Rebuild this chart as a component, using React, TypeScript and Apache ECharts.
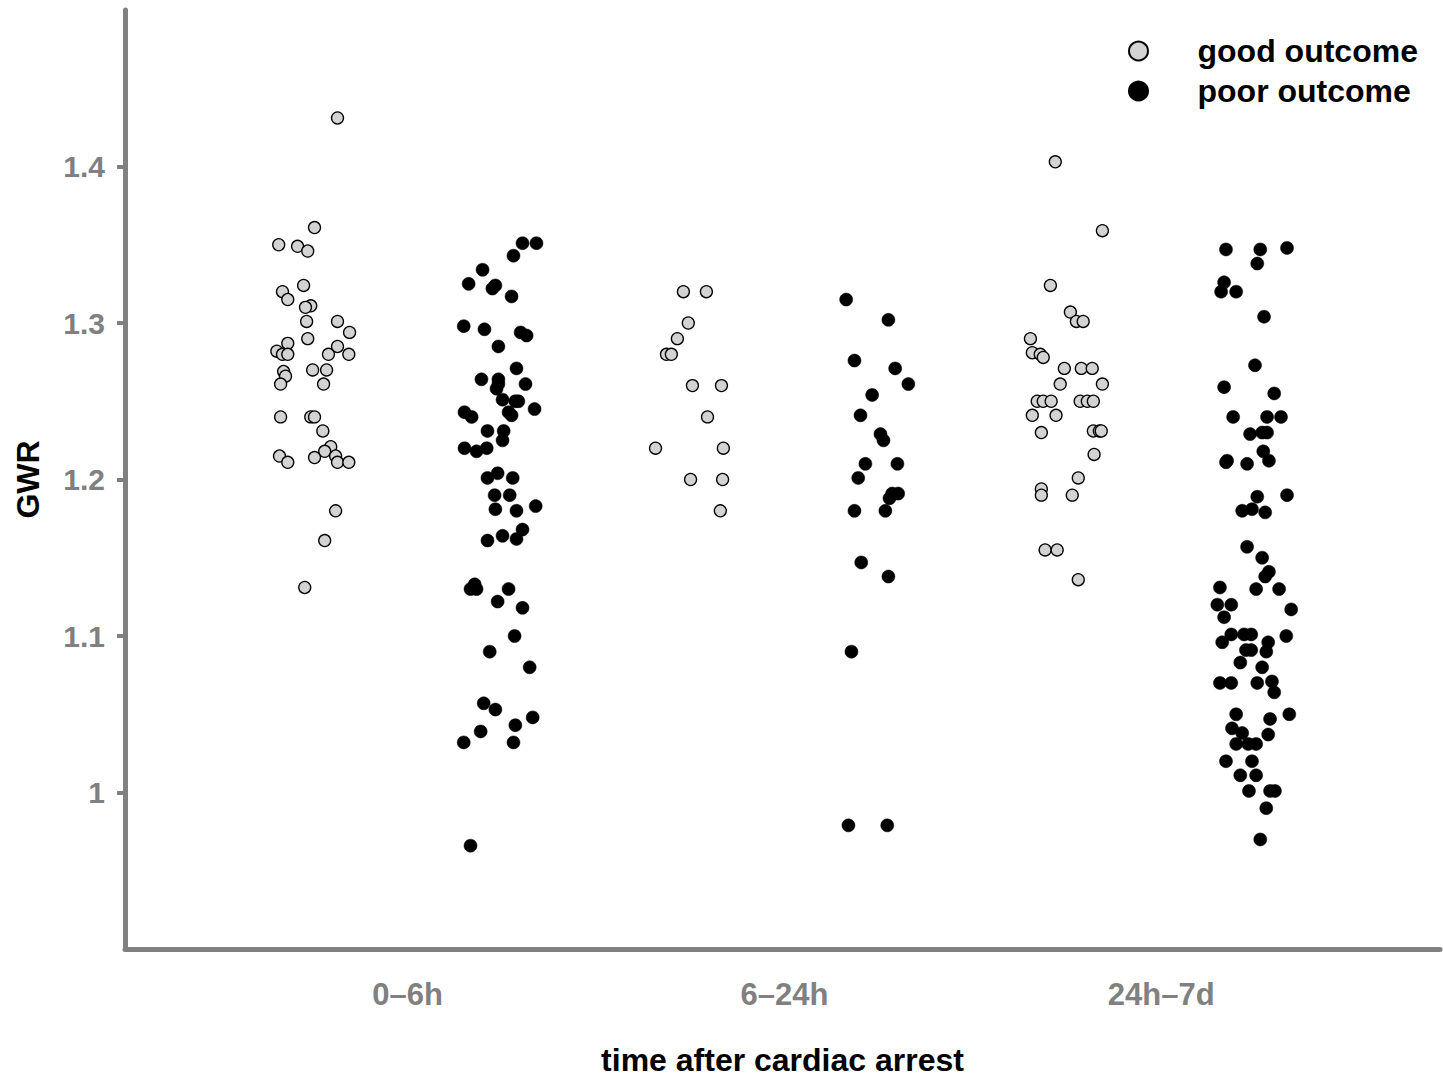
import React, { useEffect, useRef } from "react";
import * as echarts from "echarts";

// Category labels (positions 1, 2, 3 on the x axis)
const categories = ["0–6h", "6–24h", "24h–7d"];
const yTickValues = [1, 1.1, 1.2, 1.3, 1.4];

// ---- good outcome, 0–6h (jittered x positions, GWR values)
const goodX06 = [0.814,0.753,0.658,0.708,0.735,0.724,0.668,0.682,0.743,0.729,0.732,0.814,0.846,0.735,0.682,0.653,0.668,0.682,0.790,0.814,0.844,0.671,0.676,0.663,0.748,0.785,0.777,0.663,0.743,0.753,0.775,0.796,0.780,0.753,0.660,0.682,0.809,0.814,0.844,0.809,0.780,0.727];
const goodY06 = [1.431,1.361,1.350,1.349,1.346,1.324,1.320,1.315,1.311,1.310,1.301,1.301,1.294,1.290,1.287,1.282,1.280,1.280,1.280,1.285,1.280,1.269,1.266,1.261,1.270,1.270,1.261,1.240,1.240,1.240,1.231,1.221,1.218,1.214,1.215,1.211,1.215,1.211,1.211,1.180,1.161,1.131];

// ---- poor outcome, 0–6h
const poorX06 = [1.305,1.342,1.281,1.199,1.162,1.233,1.225,1.276,1.149,1.204,1.300,1.316,1.241,1.289,1.196,1.241,1.241,1.236,1.313,1.252,1.286,1.294,1.151,1.170,1.268,1.276,1.337,1.212,1.255,1.252,1.151,1.183,1.210,1.212,1.239,1.279,1.231,1.271,1.233,1.289,1.340,1.212,1.252,1.289,1.305,1.178,1.167,1.183,1.268,1.239,1.305,1.284,1.218,1.324,1.202,1.233,1.332,1.286,1.194,1.149,1.281,1.167];
const poorY06 = [1.351,1.351,1.343,1.334,1.325,1.324,1.322,1.317,1.298,1.296,1.294,1.292,1.285,1.271,1.264,1.264,1.261,1.258,1.261,1.251,1.250,1.250,1.243,1.240,1.243,1.241,1.245,1.231,1.231,1.225,1.220,1.218,1.220,1.201,1.204,1.201,1.190,1.190,1.181,1.180,1.183,1.161,1.164,1.162,1.168,1.133,1.130,1.130,1.130,1.122,1.118,1.100,1.090,1.080,1.057,1.053,1.048,1.043,1.039,1.032,1.032,0.966];

// ---- good outcome, 6–24h
const goodX624 = [1.732,1.793,1.745,1.716,1.687,1.700,1.756,1.833,1.796,1.658,1.838,1.751,1.836,1.830];
const goodY624 = [1.32,1.32,1.30,1.29,1.28,1.28,1.26,1.26,1.24,1.22,1.22,1.20,1.20,1.18];

// ---- poor outcome, 6–24h
const poorX624 = [2.164,2.276,2.186,2.294,2.329,2.233,2.202,2.255,2.263,2.215,2.300,2.196,2.286,2.302,2.279,2.186,2.268,2.204,2.276,2.178,2.170,2.273];
const poorY624 = [1.315,1.302,1.276,1.271,1.261,1.254,1.241,1.229,1.225,1.210,1.210,1.201,1.191,1.191,1.188,1.180,1.180,1.147,1.138,1.090,0.979,0.979];

// ---- good outcome, 24h–7d
const goodX247 = [2.719,2.844,2.706,2.759,2.775,2.793,2.653,2.658,2.679,2.687,2.743,2.788,2.817,2.732,2.844,2.671,2.687,2.708,2.785,2.804,2.820,2.658,2.721,2.682,2.820,2.836,2.841,2.822,2.780,2.682,2.682,2.764,2.692,2.724,2.780];
const goodY247 = [1.403,1.359,1.324,1.307,1.301,1.301,1.290,1.281,1.280,1.278,1.271,1.271,1.271,1.261,1.261,1.250,1.250,1.250,1.250,1.250,1.250,1.241,1.241,1.230,1.231,1.231,1.231,1.216,1.201,1.194,1.190,1.190,1.155,1.155,1.136];

// ---- poor outcome, 24h–7d
const poorX247 = [3.172,3.263,3.334,3.255,3.167,3.159,3.199,3.273,3.249,3.167,3.300,3.191,3.281,3.318,3.236,3.268,3.281,3.271,3.286,3.172,3.175,3.228,3.255,3.334,3.215,3.241,3.276,3.228,3.268,3.286,3.276,3.252,3.313,3.156,3.149,3.186,3.167,3.345,3.186,3.220,3.239,3.162,3.284,3.332,3.225,3.239,3.279,3.210,3.268,3.156,3.186,3.255,3.294,3.300,3.199,3.340,3.289,3.188,3.215,3.284,3.199,3.231,3.252,3.172,3.241,3.210,3.252,3.233,3.289,3.302,3.279,3.263];
const poorY247 = [1.347,1.347,1.348,1.338,1.326,1.320,1.320,1.304,1.273,1.259,1.255,1.240,1.240,1.240,1.229,1.230,1.230,1.218,1.212,1.211,1.212,1.210,1.189,1.190,1.180,1.181,1.179,1.157,1.150,1.141,1.138,1.130,1.130,1.131,1.120,1.120,1.112,1.117,1.101,1.101,1.101,1.096,1.096,1.100,1.091,1.091,1.090,1.083,1.080,1.070,1.070,1.070,1.071,1.064,1.050,1.050,1.047,1.041,1.038,1.037,1.031,1.031,1.031,1.020,1.020,1.011,1.011,1.001,1.001,1.001,0.990,0.970];

const pairs = (xs: number[], ys: number[]) => xs.map((x, i) => [x, ys[i]]);

const FONT = "'Liberation Sans', Arial, Helvetica, sans-serif";
const AXIS_GRAY = "#808080";

export default function App() {
  const ref = useRef<HTMLDivElement>(null);

  useEffect(() => {
    if (!ref.current) return;
    const chart = echarts.init(ref.current, undefined, { renderer: "svg" });

    const goodData = [
      ...pairs(goodX06, goodY06),
      ...pairs(goodX624, goodY624),
      ...pairs(goodX247, goodY247),
    ];
    const poorData = [
      ...pairs(poorX06, poorY06),
      ...pairs(poorX624, poorY624),
      ...pairs(poorX247, poorY247),
    ];

    chart.setOption({
      animation: false,
      backgroundColor: "#ffffff",
      grid: { left: 125, right: 3, top: 10, bottom: 127, containLabel: false },
      legend: {
        orient: "vertical",
        left: 1123,
        top: 30,
        itemWidth: 108,
        itemHeight: 19,
        itemGap: 8,
        selectedMode: false,
        textStyle: { fontSize: 32, fontWeight: "bold", color: "#000", fontFamily: FONT, lineHeight: 30 },
        data: [
          { name: "good outcome", icon: "circle" },
          { name: "poor outcome", icon: "circle" },
        ],
      },
      xAxis: {
        type: "value",
        min: 0.25,
        max: 3.74,
        axisLine: { show: true, onZero: false, lineStyle: { color: AXIS_GRAY, width: 5 } },
        axisTick: { show: false },
        splitLine: { show: false },
        axisLabel: {
          customValues: [1, 2, 3],
          formatter: (v: number) => categories[Math.round(v) - 1] ?? "",
          color: AXIS_GRAY,
          fontWeight: "bold",
          fontSize: 31,
          fontFamily: FONT,
          margin: 30,
        },
        name: "time after cardiac arrest",
        nameLocation: "middle",
        nameGap: 95,
        nameTextStyle: { fontSize: 32, fontWeight: "bold", color: "#000", fontFamily: FONT },
      },
      yAxis: {
        type: "value",
        min: 0.9,
        max: 1.5,
        axisLine: { show: true, onZero: false, lineStyle: { color: AXIS_GRAY, width: 5 } },
        axisTick: { show: true, customValues: yTickValues, length: 8, lineStyle: { color: AXIS_GRAY, width: 4 } },
        splitLine: { show: false },
        axisLabel: {
          customValues: yTickValues,
          color: AXIS_GRAY,
          fontWeight: "bold",
          fontSize: 30,
          fontFamily: FONT,
          margin: 20,
        },
        name: "GWR",
        nameLocation: "middle",
        nameGap: 81,
        nameRotate: 90,
        nameTextStyle: { fontSize: 32, fontWeight: "bold", color: "#000", fontFamily: FONT },
      },
      series: [
        {
          name: "good outcome",
          type: "scatter",
          symbol: "circle",
          symbolSize: 12,
          itemStyle: { color: "#d3d3d3", borderColor: "#000", borderWidth: 1.3, opacity: 1 },
          data: goodData,
        },
        {
          name: "poor outcome",
          type: "scatter",
          symbol: "circle",
          symbolSize: 13,
          itemStyle: { color: "#000", borderColor: "#000", borderWidth: 0.5, opacity: 1 },
          data: poorData,
        },
      ],
    });

    return () => chart.dispose();
  }, []);

  return (
    <div
      ref={ref}
      style={{ position: "fixed", left: 0, top: 0, width: 1443, height: 1081, background: "#fff" }}
    />
  );
}
